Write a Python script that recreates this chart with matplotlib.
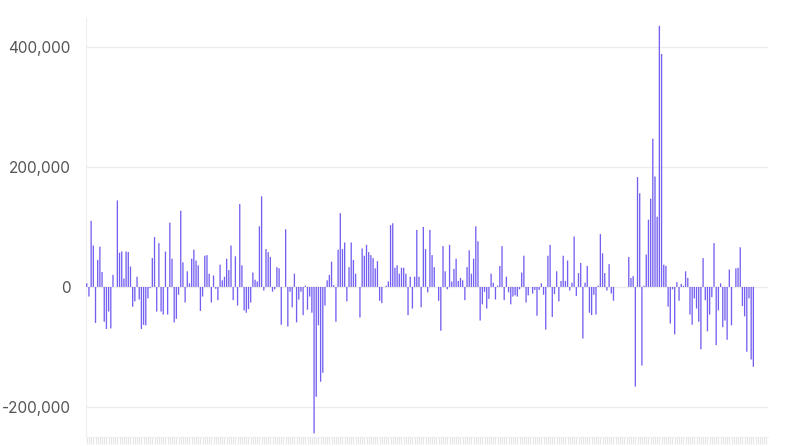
import matplotlib.pyplot as plt
from matplotlib.ticker import FuncFormatter

# ------------------------
# Data (values in thousands)
# ------------------------
values_k = [
    6, -16, 110, 69, -60, 45, 67, 25, -58, -70,
    -41, -69, 20, 0, 144, 57, 59, 14, 59, 58,
    34, -33, -24, 17, -21, -70, -63, -64, -19, -2,
    48, 83, -41, 73, -41, -46, 59, -46, 107, 47,
    -59, -53, -13, 127, 41, -26, 26, 6, 47, 62,
    44, 36, -40, -16, 52, 53, 22, -26, 19, -3,
    -22, 37, 11, 17, 47, 28, 69, -22, 51, -31,
    138, 36, -39, -43, -37, -26, 24, 12, 9, 101,
    151, -6, 63, 58, 50, -8, -4, 33, 31, -63,
    0, 96, -66, -8, -34, 22, -59, -21, -8, -47,
    2, -38, -16, -43, -244, -183, -64, -158, -143, -31,
    11, 20, 42, 3, -58, 62, 123, 63, 74, -24,
    33, 74, 45, 22, 0, -51, 64, 52, 70, 58,
    53, 48, 31, 43, -23, -27, 0, 2, 9, 103,
    106, 32, 36, 22, 32, 32, 22, -47, 17, -36,
    17, 95, 17, -34, 100, 63, -9, 95, 53, 33,
    0, -23, -73, 68, 26, -4, 70, 9, 30, 47,
    10, 15, 11, -22, 33, 61, 22, 47, 101, 76,
    -56, -29, -8, -36, -20, 22, 7, -21, 2, 35,
    68, -22, 17, -9, -29, -16, -14, -16, -4, 24,
    52, -26, -14, 0, -11, -5, -48, -5, 6, -13,
    -71, 52, 70, -50, -12, 26, -24, 10, 52, 10,
    44, -6, 7, 84, -15, 23, 40, -86, 7, 35,
    -43, -47, -13, -46, 2, 88, 56, 23, -6, 38,
    -11, -23, 0, 0, 0, 0, 0, 0, 50, 15,
    18, -166, 183, 156, -131, 2, 54, 112, 147, 247,
    184, 117, 435, 388, 37, 35, -33, -61, -4, -79,
    8, -23, 5, 2, 26, 15, -46, -63, -19, -36,
    -58, -104, 48, -22, -74, -46, -17, 73, -97, -39,
    6, -67, -56, -88, 29, -64, 0, 31, 32, 66,
    -32, -49, -108, -19, -121, -133,
]
values = [v * 1000 for v in values_k]
positions = list(range(len(values)))
n_slots = 312  # category slots on the x axis (last ones empty)

yticks = [-200000, 0, 200000, 400000]

# ------------------------
# Plot
# ------------------------
plt.rcParams['font.family'] = ['Inter', 'DejaVu Sans']

fig = plt.figure(figsize=(7.94, 4.46), dpi=100)
ax = fig.add_axes([86 / 794, 9 / 446, 682 / 794, 419 / 446])

bars = ax.bar(positions, values, width=0.6, color='#7360f0', linewidth=0, zorder=3)
for b in bars:
    b.set_snap(False)

ax.set_xlim(-0.35, n_slots - 0.3)
ax.set_ylim(-250000, 448000)

ax.set_yticks(yticks)
ax.yaxis.set_major_formatter(FuncFormatter(lambda v, p: f"{int(v):,}"))
ax.tick_params(axis='y', length=0, pad=11, labelsize=11, labelcolor='#555555')
ax.grid(axis='y', color='#ececec', linewidth=1, zorder=0)

ax.set_xticks(range(n_slots))
ax.set_xticklabels([])
ax.tick_params(axis='x', length=5, width=0.8, color='#e6e6e6')

for side in ['top', 'right']:
    ax.spines[side].set_visible(False)
ax.spines['left'].set_color('#eeeeee')
ax.spines['bottom'].set_color('#eeeeee')

fig.savefig("out.png", dpi=100)
